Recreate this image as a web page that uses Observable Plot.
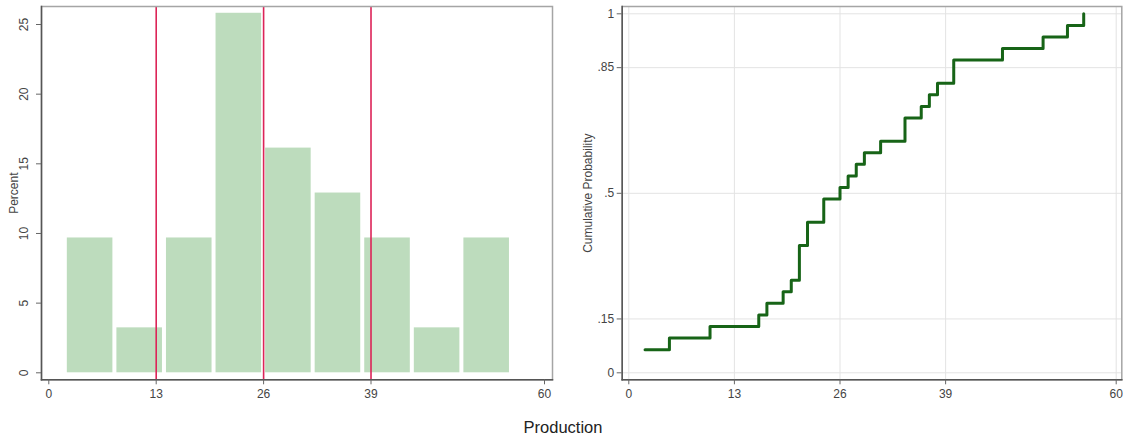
<!DOCTYPE html>
<html>
<head>
<meta charset="utf-8">
<script src="https://cdn.jsdelivr.net/npm/d3@7"></script>
<script src="https://cdn.jsdelivr.net/npm/@observablehq/plot@0.6"></script>
<style>
  body { margin: 0; background: #fff; font-family: "Liberation Sans", Arial, sans-serif; }
  #wrap { position: relative; width: 1123px; height: 438px; overflow: hidden; }
  #row { display: flex; }
  #caption { position: absolute; left: 0; top: 418px; width: 1126px; text-align: center;
             font-size: 16.5px; line-height: 18px; color: #222; }
</style>
</head>
<body>
<div id="wrap">
  <div id="row"></div>
  <div id="caption">Production</div>
</div>
<script>
const production = [2,2,5,10,16,17,19,20,21,21,21,22,22,24,24,26,27,28,29,31,34,34,36,37,38,40,40,46,51,54,56];
// Histogram bins (start, end) and counts per bin
const binStart = [2, 8, 14, 20, 26, 32, 38, 44, 50];
const binEnd   = [8, 14, 20, 26, 32, 38, 44, 50, 56];
const binCount = [3, 1, 3, 8, 5, 4, 3, 1, 3];
// Reference lines (quartile markers)
const refLines = [13, 26, 39];
// Tick values
const xTicks = [0, 13, 26, 39, 60];
const yTicksPct = [0, 5, 10, 15, 20, 25];
const yTicksCdf = [0, 0.15, 0.5, 0.85, 1];

const n = production.length;
const hist = binStart.map((s, i) => ({lo: s, hi: binEnd[i], pct: binCount[i] / n * 100}));
const uniq = Array.from(new Set(production)).sort((a, b) => a - b);
const cdf = uniq.map(v => ({x: v, p: production.filter(d => d <= v).length / n}));

const H = 405;
const font = {fontFamily: "'Liberation Sans', Arial, sans-serif", fontSize: "12px", color: "#444", background: "white", overflow: "visible"};

const left = Plot.plot({
  width: 565, height: H,
  marginLeft: 41, marginRight: 13, marginTop: 6, marginBottom: H - 379.3,
  x: {domain: [0, 60], insetLeft: 7.3, insetRight: 8},
  y: {domain: [0, 25], insetTop: 18, insetBottom: 7},
  style: font,
  marks: [
    Plot.rectY(hist, {x1: "lo", x2: "hi", y: "pct", fill: "#bddcbd", insetLeft: 2, insetRight: 2}),
    Plot.ruleX(refLines, {stroke: "#dc2458", strokeWidth: 1.6}),
    Plot.frame({stroke: "#a5a5a5", strokeWidth: 1.5}),
    Plot.frame({anchor: "left", stroke: "#555", strokeWidth: 1.5}),
    Plot.frame({anchor: "bottom", stroke: "#555", strokeWidth: 1.5}),
    Plot.axisX({ticks: xTicks, tickSize: 5, tickPadding: 5, stroke: "#666", label: null}),
    Plot.axisY({ticks: yTicksPct, tickSize: 5, tickPadding: 9, tickRotate: -90, textAnchor: "middle", stroke: "#666",
                label: "Percent", labelAnchor: "center", labelOffset: 32, labelArrow: "none"})
  ]
});

const right = Plot.plot({
  width: 558, height: H,
  marginLeft: 56.7, marginRight: 1.7, marginTop: 6, marginBottom: H - 379.3,
  x: {domain: [0, 60], insetLeft: 6.6, insetRight: 5.6},
  y: {domain: [0, 1], insetTop: 7.3, insetBottom: 7},
  style: font,
  marks: [
    Plot.gridX({ticks: xTicks, stroke: "#e3e3e3", strokeOpacity: 1}),
    Plot.gridY({ticks: yTicksCdf, stroke: "#e3e3e3", strokeOpacity: 1}),
    Plot.line(cdf, {x: "x", y: "p", curve: "step-after", stroke: "#176417", strokeWidth: 3}),
    Plot.frame({stroke: "#a5a5a5", strokeWidth: 1.5}),
    Plot.frame({anchor: "left", stroke: "#555", strokeWidth: 1.5}),
    Plot.frame({anchor: "bottom", stroke: "#555", strokeWidth: 1.5}),
    Plot.axisX({ticks: xTicks, tickSize: 5, tickPadding: 5, stroke: "#666", label: null}),
    Plot.axisY({ticks: yTicksCdf, tickSize: 5, tickPadding: 3, stroke: "#666",
                tickFormat: d => d === 0 ? "0" : d === 1 ? "1" : String(d).replace(/^0/, ""),
                label: "Cumulative Probability", labelAnchor: "center", labelOffset: 39, labelArrow: "none"})
  ]
});

document.getElementById("row").append(left, right);
</script>
</body>
</html>
